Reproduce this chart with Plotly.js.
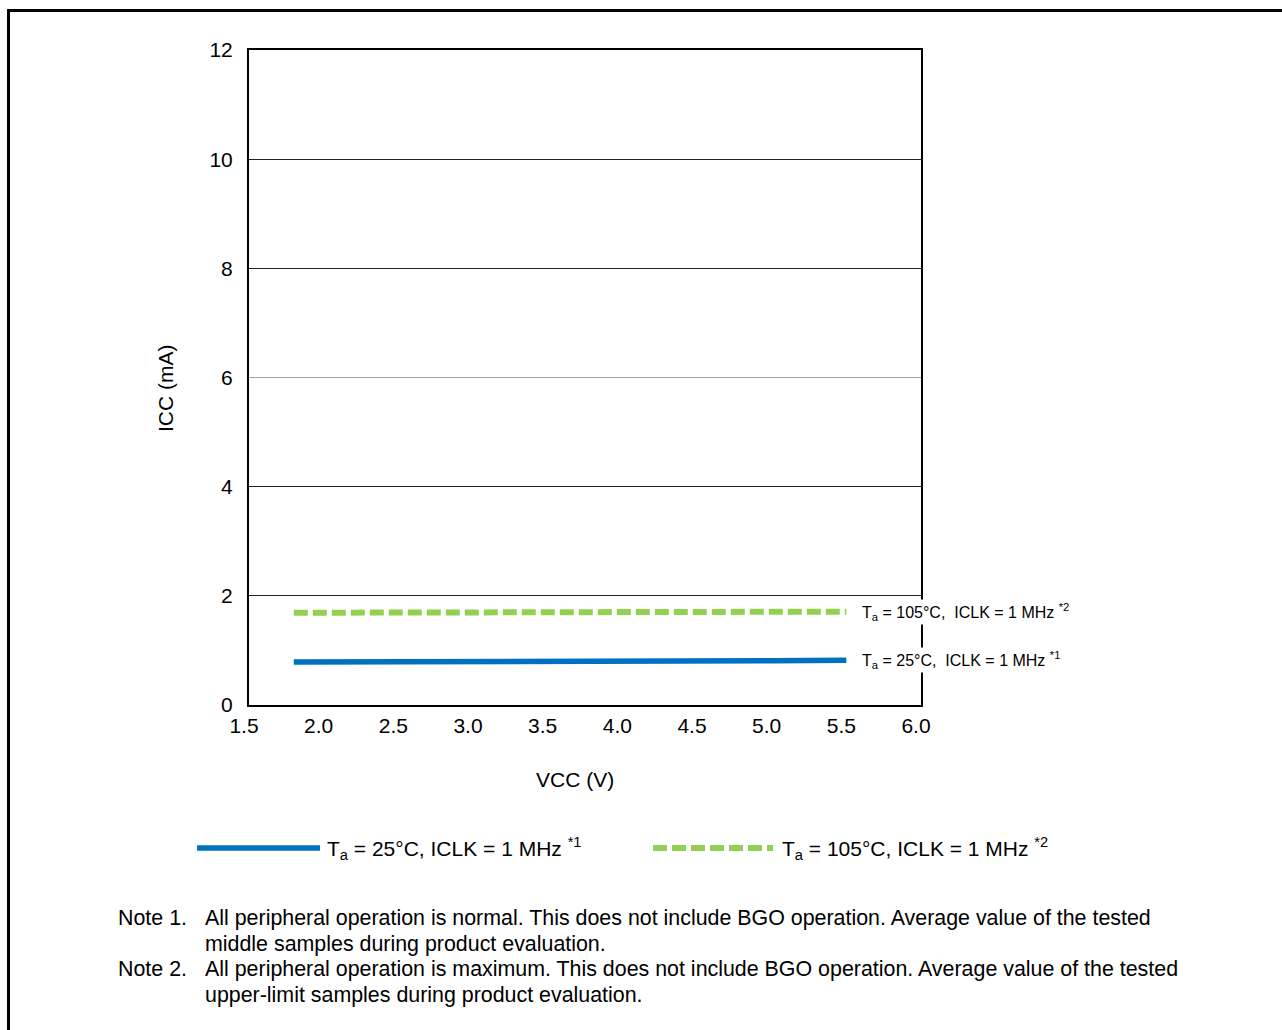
<!DOCTYPE html>
<html>
<head>
<meta charset="utf-8">
<script src="https://cdn.plot.ly/plotly-3.0.1.min.js"></script>
<style>html,body{margin:0;padding:0;background:#fff;}#chart{width:1282px;height:1030px;}</style>
</head>
<body>
<div id="chart"></div>
<script>
// Data
const vcc = [1.8, 2.0, 2.5, 3.0, 3.5, 4.0, 4.5, 5.0, 5.5];
const icc25 = [0.79, 0.79, 0.80, 0.80, 0.80, 0.81, 0.81, 0.81, 0.82];
const icc105 = [1.69, 1.69, 1.69, 1.70, 1.70, 1.70, 1.70, 1.71, 1.71];
const seriesNames = [
  "T<sub>a</sub> = 25°C, ICLK = 1 MHz <sup>*1</sup>",
  "T<sub>a</sub> = 105°C, ICLK = 1 MHz <sup>*2</sup>"
];
const lineLabels = [
  "T<sub>a</sub> = 25°C,  ICLK = 1 MHz <sup>*1</sup>",
  "T<sub>a</sub> = 105°C,  ICLK = 1 MHz <sup>*2</sup>"
];
const xTitle = "VCC (V)";
const yTitle = "ICC (mA)";
const xTicks = [1.5, 2.0, 2.5, 3.0, 3.5, 4.0, 4.5, 5.0, 5.5, 6.0];
const xTickText = ["1.5", "2.0", "2.5", "3.0", "3.5", "4.0", "4.5", "5.0", "5.5", "6.0"];
const yTicks = [0, 2, 4, 6, 8, 10, 12];
const notes = [
  ["Note 1.", "All peripheral operation is normal. This does not include BGO operation. Average value of the tested", "middle samples during product evaluation."],
  ["Note 2.", "All peripheral operation is maximum. This does not include BGO operation. Average value of the tested", "upper-limit samples during product evaluation."]
];

const BLUE = "#0070C0", GREEN = "#92D050";
const FONT = "Liberation Sans, Arial, sans-serif";
const FS = 21;
const NFS = 21.4;
// plot area in pixels
const L = 249, R = 921, T = 50, B = 705;
const px = x => (x - L) / (R - L);
const py = y => (B - y) / (B - T);

const traces = [
  {x: vcc, y: icc25, mode: "lines", name: seriesNames[0], line: {color: BLUE, width: 5.5}, showlegend: false},
  {x: vcc, y: icc105, mode: "lines", name: seriesNames[1], line: {color: GREEN, width: 6, dash: "14px,5px"}, showlegend: false}
];

const shapes = [
  // outer frame
  {type: "rect", xref: "paper", yref: "paper", x0: px(8.5), x1: px(1295), y0: py(1045), y1: py(10.5), line: {color: "#000", width: 3}, layer: "below"},
  // legend samples
  {type: "line", xref: "paper", yref: "paper", x0: px(197), x1: px(320), y0: py(848), y1: py(848), line: {color: BLUE, width: 5.5}},
  {type: "line", xref: "paper", yref: "paper", x0: px(653), x1: px(773), y0: py(848), y1: py(848), line: {color: GREEN, width: 6, dash: "14px,5px"}},
  // lighter grid line at 6
  {type: "line", xref: "paper", yref: "y", x0: 0, x1: 1, y0: 6, y1: 6, line: {color: "#a0a0a0", width: 1}}
];

const txt = (x, y, text, size, extra) => Object.assign({xref: "paper", yref: "paper", x: x, y: y, text: text, showarrow: false, xanchor: "left", yanchor: "middle", font: {family: FONT, size: size, color: "#000"}}, extra || {});

const annotations = [
  txt(px(860), icc105[icc105.length - 1], lineLabels[1], 16, {yref: "y", bgcolor: "#fff"}),
  txt(px(860), icc25[icc25.length - 1], lineLabels[0], 16, {yref: "y", bgcolor: "#fff"}),
  txt(px(325), py(848), seriesNames[0], FS),
  txt(px(780), py(848), seriesNames[1], FS),
  // axis titles
  txt(px(575), py(779), xTitle, FS, {xanchor: "center"}),
  txt(px(165), py(388), yTitle, FS, {xanchor: "center", textangle: -90})
];
const noteY = [[918, 944], [969, 995]];
notes.forEach((n, i) => {
  annotations.push(txt(px(116), py(noteY[i][0]), n[0], NFS));
  annotations.push(txt(px(203), py(noteY[i][0]), n[1], NFS));
  annotations.push(txt(px(203), py(noteY[i][1]), n[2], NFS));
});

const layout = {
  width: 1282, height: 1030,
  margin: {l: L, r: 1282 - R, t: T, b: 1030 - B, pad: 0},
  paper_bgcolor: "#fff", plot_bgcolor: "#fff",
  font: {family: FONT, size: FS, color: "#000"},
  showlegend: false,
  xaxis: {
    range: [1.5, 6.0], tickvals: xTicks, ticktext: xTickText, showgrid: false, zeroline: false,
    showline: true, linecolor: "#000", linewidth: 2, mirror: true, ticks: "", ticklen: 0,
    ticklabelshift: -5, ticklabelstandoff: 1,
    tickfont: {family: FONT, size: FS, color: "#000"}
  },
  yaxis: {
    range: [0, 12], tickvals: yTicks, showgrid: true, gridcolor: "#222", gridwidth: 1, zeroline: false,
    showline: true, linecolor: "#000", linewidth: 2, mirror: true, ticks: "", ticklen: 0,
    ticklabelstandoff: 10,
    tickfont: {family: FONT, size: FS, color: "#000"}
  },
  shapes: shapes,
  annotations: annotations
};

Plotly.newPlot("chart", traces, layout, {displayModeBar: false, staticPlot: true});
</script>
</body>
</html>
